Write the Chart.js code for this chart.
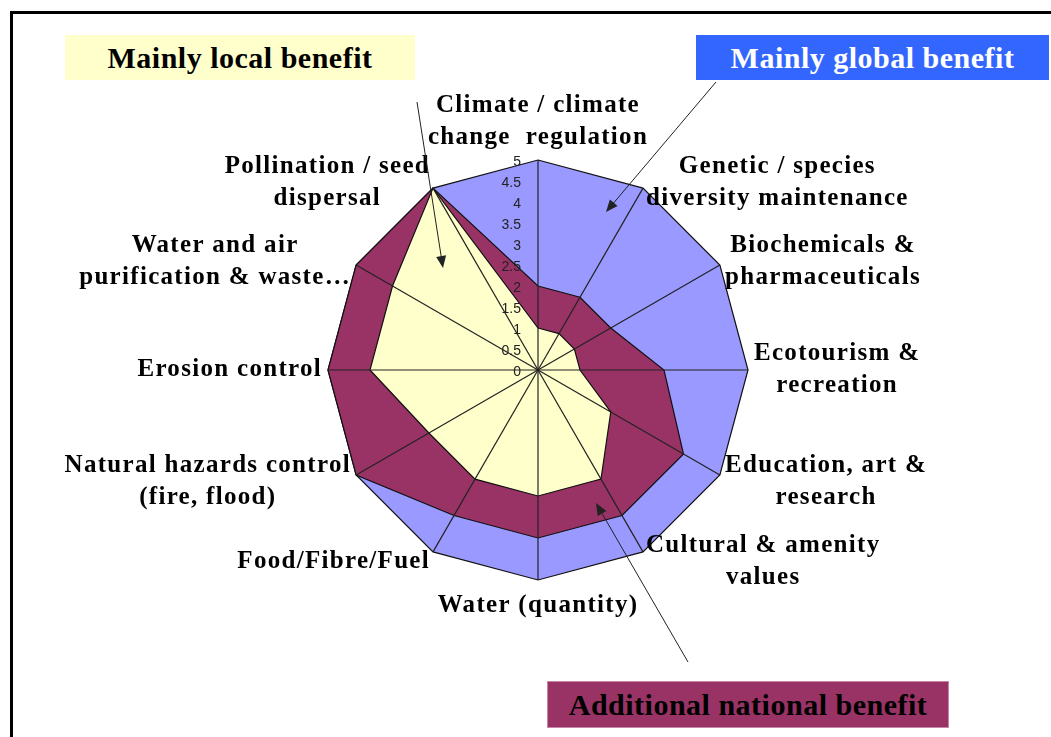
<!DOCTYPE html>
<html>
<head>
<meta charset="utf-8">
<title>Ecosystem services benefits</title>
<script src="https://cdn.jsdelivr.net/npm/chart.js@4.4.1/dist/chart.umd.min.js"></script>
<style>
  body { margin: 0; background: #fff; }
  #wrap { position: relative; width: 1051px; height: 737px; overflow: hidden; }
  #frame { position: absolute; left: 10px; top: 11px; width: 1100px; height: 800px;
           border-top: 3px solid #000; border-left: 3px solid #000; }
  #chart { position: absolute; left: 0; top: 0; }
  .box { position: absolute; height: 45px; line-height: 45px; text-align: center;
         font-family: "Liberation Serif", "Times New Roman", serif; font-weight: bold;
         font-size: 30px; letter-spacing: 0.5px; color: #000; }
  #local { left: 65px; top: 35px; width: 350px; background: #ffffcc; }
  #global { left: 696px; top: 35px; width: 353px; background: #3366ff; color: #fff; }
  #national { left: 547px; top: 681px; width: 400px; background: #993366; border: 1px solid #c785a8; }
</style>
</head>
<body>
<div id="wrap">
  <div id="frame"></div>
  <canvas id="chart" width="1051" height="737"></canvas>
  <div class="box" id="local">Mainly local benefit</div>
  <div class="box" id="global">Mainly global benefit</div>
  <div class="box" id="national">Additional national benefit</div>
</div>
<script>
// categories (clockwise from the top)
const categories = [
  ['Climate / climate', 'change  regulation'],
  ['Genetic / species', 'diversity maintenance'],
  ['Biochemicals &', 'pharmaceuticals'],
  ['Ecotourism &', 'recreation'],
  ['Education, art &', 'research'],
  ['Cultural & amenity', 'values'],
  'Water (quantity)',
  'Food/Fibre/Fuel',
  ['Natural hazards control', '(fire, flood)'],
  'Erosion control',
  ['Water and air', 'purification & waste\u2026'],
  ['Pollination / seed', 'dispersal']
];

// series values
const globalBenefit   = [5, 5, 5, 5, 5, 5, 5, 5, 5, 5, 5, 5];
const nationalBenefit = [2, 2, 2, 3, 4, 4, 4, 4, 5, 5, 5, 5];
const localBenefit    = [1, 1, 1, 1, 2, 3, 3, 3, 3, 4, 4, 5];

// axis range
const axisMin = 0;
const axisMax = 5;
const axisStep = 0.5;

// arrows from the boxes into the areas [x1, y1, x2, y2]
const arrows = [
  [417, 102, 443, 268],
  [716, 82, 606, 212],
  [688, 662, 596, 503]
];

// angle lines over the filled areas, then labels and arrows
const overlay = {
  id: 'overlay',
  afterDatasetsDraw(chart) {
    const scale = chart.scales.r;
    const ctx = chart.ctx;
    ctx.save();
    ctx.strokeStyle = '#222';
    ctx.lineWidth = 1.2;
    categories.forEach((c, i) => {
      const p = scale.getPointPosition(i, scale.drawingArea);
      ctx.beginPath();
      ctx.moveTo(scale.xCenter, scale.yCenter);
      ctx.lineTo(p.x, p.y);
      ctx.stroke();
    });
    ctx.restore();
  },
  afterDraw(chart) {
    const scale = chart.scales.r;
    const ctx = chart.ctx;
    const R = scale.drawingArea;
    ctx.save();

    // tick labels, right aligned beside the vertical axis
    ctx.font = '14px "Liberation Sans", Arial, sans-serif';
    ctx.fillStyle = '#222';
    ctx.textAlign = 'right';
    ctx.textBaseline = 'middle';
    scale.ticks.forEach(t => {
      const d = scale.getDistanceFromCenterForValue(t.value);
      ctx.fillText(String(+t.value.toFixed(1)), scale.xCenter - 17, scale.yCenter - d + 2);
    });

    // category labels
    ctx.font = 'bold 25px "Liberation Serif", "Times New Roman", serif';
    if ('letterSpacing' in ctx) ctx.letterSpacing = '1.3px';
    ctx.fillStyle = '#000';
    ctx.textAlign = 'center';
    const lh = 32;
    categories.forEach((lab, i) => {
      const lines = [].concat(lab);
      const p = scale.getPointPosition(i, R + 6);
      const deg = Math.round(((p.angle + Math.PI / 2) * 180 / Math.PI + 360) % 360);
      const w = Math.max(...lines.map(l => ctx.measureText(l).width));
      const h = lines.length * lh;
      let cx = p.x;
      let top = p.y - h / 2;
      if (deg === 0) top = p.y - h;
      else if (deg === 180) top = p.y + 4;
      else if (deg < 180) cx = p.x + w / 2;
      else cx = p.x - w / 2;
      if ((deg > 90 && deg < 180) || (deg > 180 && deg < 270)) top += 4;
      lines.forEach((l, k) => ctx.fillText(l, cx, top + lh * k + lh / 2));
    });

    // arrows
    ctx.strokeStyle = '#222';
    ctx.fillStyle = '#222';
    ctx.lineWidth = 1;
    arrows.forEach(([x1, y1, x2, y2]) => {
      const a = Math.atan2(y2 - y1, x2 - x1);
      ctx.beginPath();
      ctx.moveTo(x1, y1);
      ctx.lineTo(x2 - 6 * Math.cos(a), y2 - 6 * Math.sin(a));
      ctx.stroke();
      ctx.beginPath();
      ctx.moveTo(x2, y2);
      ctx.lineTo(x2 - 12 * Math.cos(a) + 5 * Math.sin(a), y2 - 12 * Math.sin(a) - 5 * Math.cos(a));
      ctx.lineTo(x2 - 12 * Math.cos(a) - 5 * Math.sin(a), y2 - 12 * Math.sin(a) + 5 * Math.cos(a));
      ctx.closePath();
      ctx.fill();
    });
    ctx.restore();
  }
};

new Chart(document.getElementById('chart').getContext('2d'), {
  type: 'radar',
  data: {
    labels: categories,
    datasets: [
      { label: 'Mainly local benefit', data: localBenefit,
        backgroundColor: '#ffffcc', borderColor: '#111', borderWidth: 1.2, fill: true },
      { label: 'Additional national benefit', data: nationalBenefit,
        backgroundColor: '#993366', borderColor: '#111', borderWidth: 1.2, fill: true },
      { label: 'Mainly global benefit', data: globalBenefit,
        backgroundColor: '#9999ff', borderColor: '#111', borderWidth: 1.2, fill: true }
    ]
  },
  options: {
    responsive: false,
    devicePixelRatio: 1,
    animation: false,
    layout: { padding: { left: 328, right: 303, top: 160, bottom: 157 } },
    elements: {
      line: { tension: 0 },
      point: { radius: 0, hoverRadius: 0 }
    },
    plugins: {
      legend: { display: false },
      tooltip: { enabled: false }
    },
    scales: {
      r: {
        min: axisMin,
        max: axisMax,
        ticks: { stepSize: axisStep, display: false },
        grid: { display: false },
        angleLines: { display: false },
        pointLabels: { display: false }
      }
    }
  },
  plugins: [overlay]
});
</script>
</body>
</html>
